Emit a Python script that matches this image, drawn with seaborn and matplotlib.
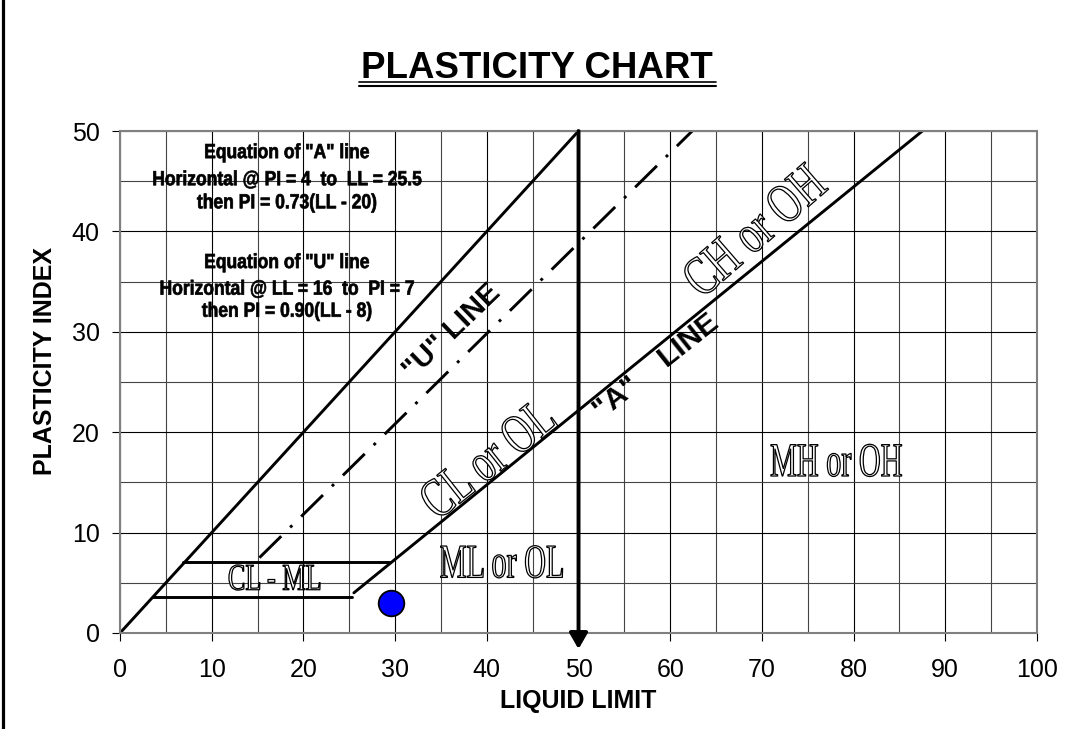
import matplotlib
matplotlib.use("Agg")
import matplotlib.pyplot as plt
import seaborn as sns
from matplotlib.lines import Line2D
from matplotlib.patheffects import AbstractPathEffect
from matplotlib.transforms import Affine2D

# boundary lines (LL, PI)
limit_ll = [0, 50]
limit_pi = [0, 50]
a_line_ll = [25.5, 87.5]
a_line_pi = [4.0, 50]
u_line_ll = [15.2, 62.4]
u_line_pi = [7.5, 50]
clml_low_ll = [3.6, 25.3]
clml_low_pi = [3.6, 3.6]
clml_high_ll = [6.9, 29.4]
clml_high_pi = [7.1, 7.1]
ll50_pi = [50, -1.6]

# the tested sample
sample_ll = [29.6]
sample_pi = [2.96]

x_ticks = list(range(0, 101, 10))
y_ticks = list(range(0, 51, 10))

eq_a = ['Equation of "A" line', 'Horizontal @ PI = 4  to  LL = 25.5', 'then PI = 0.73(LL - 20)']
eq_u = ['Equation of "U" line', 'Horizontal @ LL = 16  to  PI = 7', 'then PI = 0.90(LL - 8)']


class Squeeze(AbstractPathEffect):
    """Draw text glyphs narrowed (and optionally stroked), like condensed Excel fonts."""

    def __init__(self, sx=1.0, sy=1.0, edge=None, lw=1.0):
        super().__init__()
        self.sx, self.sy, self.edge, self.lw = sx, sy, edge, lw

    def draw_path(self, renderer, gc, tpath, affine, rgbFace=None):
        ext = tpath.get_extents()
        cx = (ext.x0 + ext.x1) / 2
        aff = Affine2D().translate(-cx, 0).scale(self.sx, self.sy).translate(cx, 0) + affine
        gc0 = renderer.new_gc()
        gc0.copy_properties(gc)
        if self.edge is not None:
            gc0.set_foreground(self.edge)
            gc0.set_linewidth(self.lw)
        else:
            gc0.set_linewidth(0)
        renderer.draw_path(gc0, tpath, aff, rgbFace)
        gc0.restore()


sns.set_theme(style="white")
plt.rcParams["font.family"] = ["Liberation Sans", "DejaVu Sans"]
plt.rcParams["text.color"] = "black"
plt.rcParams["axes.labelcolor"] = "black"
plt.rcParams["xtick.color"] = "black"
plt.rcParams["ytick.color"] = "black"

fig = plt.figure(figsize=(10.66, 7.29), dpi=100)
ax = fig.add_axes([0.1126, 0.1317, 0.8602, 0.6886])


def outline_label(text, x, y, size, angle=0, squeeze=0.63):
    ax.text(x, y, text, fontsize=size, rotation=angle, rotation_mode="anchor",
            ha="center", va="center", color="white",
            family=["Liberation Serif", "DejaVu Serif"], zorder=6,
            path_effects=[Squeeze(sx=squeeze, edge="black", lw=0.9)])


def seg(xs, ys, **kw):
    sns.lineplot(x=xs, y=ys, ax=ax, sort=False, estimator=None, color="black", **kw)


seg(limit_ll, limit_pi, lw=2.1)
seg(a_line_ll, a_line_pi, lw=2.1)
seg(clml_low_ll, clml_low_pi, lw=2.1)
seg(clml_high_ll, clml_high_pi, lw=2.1)
seg(u_line_ll, u_line_pi, lw=2.1, linestyle=(0, (10.5, 4.3, 1, 4.3)))

ax.annotate("", xy=(50, ll50_pi[1]), xytext=(50, ll50_pi[0]),
            arrowprops=dict(arrowstyle="-|>,head_length=0.95,head_width=0.55",
                            color="black", lw=2.8, shrinkA=0, shrinkB=0, mutation_scale=10),
            annotation_clip=False, zorder=5)

sns.scatterplot(x=sample_ll, y=sample_pi, ax=ax, s=340, color="#0000FF",
                edgecolor="black", linewidth=1.3, zorder=7, clip_on=False)

# equations
eq_style = dict(ha="center", va="baseline", fontsize=14, fontweight="bold", zorder=6,
                path_effects=[Squeeze(sx=0.9, sy=1.05, edge="black", lw=0.5)])
for line, base in zip(eq_a, [47.3, 44.6, 42.3]):
    ax.text(18.2, base, line, **eq_style)
for line, base in zip(eq_u, [36.35, 33.7, 31.5]):
    ax.text(18.2, base, line, **eq_style)

ax.text(36.2, 30.0, '"U" LINE', rotation=44, ha="center", va="center",
        rotation_mode="anchor", fontsize=21, fontweight="bold", zorder=6)
ax.text(58.5, 26.5, '"A"    LINE', rotation=38.5, ha="center", va="center",
        rotation_mode="anchor", fontsize=21.5, fontweight="bold", zorder=6)

outline_label("CL or OL", 40.37, 17.08, 40, angle=38.4, squeeze=0.72)
outline_label("CH or OH", 69.4, 39.8, 40, angle=41, squeeze=0.73)
outline_label("ML or OL", 41.7, 6.73, 34.5)
outline_label("MH or OH", 78.1, 16.83, 34.5)
outline_label("CL - ML", 16.9, 5.23, 27, squeeze=0.7)

ax.set_xlim(0, 100)
ax.set_ylim(0, 50)
ax.set_xticks(x_ticks)
ax.set_yticks(y_ticks)
ax.set_xticks(range(5, 100, 10), minor=True)
ax.set_yticks(range(5, 50, 10), minor=True)
ax.set_axisbelow(True)
ax.grid(which="major", color="black", lw=0.8)
ax.grid(which="minor", color="#444444", lw=0.8)
ax.tick_params(which="minor", length=0)
ax.tick_params(axis="x", which="major", bottom=True, direction="out", length=6,
               width=0.8, labelsize=18, pad=12)
ax.tick_params(axis="y", which="major", left=True, direction="out", length=6,
               width=0.8, labelsize=18, pad=8.6)
for s in ax.spines.values():
    s.set_color("#808080")
    s.set_linewidth(1.5)

ax.set_xlabel("LIQUID LIMIT", fontsize=18, fontweight="bold")
ax.xaxis.set_label_coords(0.5, -0.112)
ax.set_ylabel("PLASTICITY INDEX", fontsize=18, fontweight="bold")
ax.yaxis.set_label_coords(-0.069, 0.542)

fig.text(0.504, 0.893, "PLASTICITY CHART", ha="center", va="baseline",
         fontsize=26.4, fontweight="bold")
fig.add_artist(Line2D([0.3368, 0.6717], [0.8871, 0.8871], color="black", lw=1.2))
fig.add_artist(Line2D([0.3368, 0.6717], [0.8824, 0.8824], color="black", lw=1.5))
fig.add_artist(Line2D([0.0031, 0.0031], [0, 1], color="black", lw=2.3))

fig.savefig("out.png", dpi=100)
